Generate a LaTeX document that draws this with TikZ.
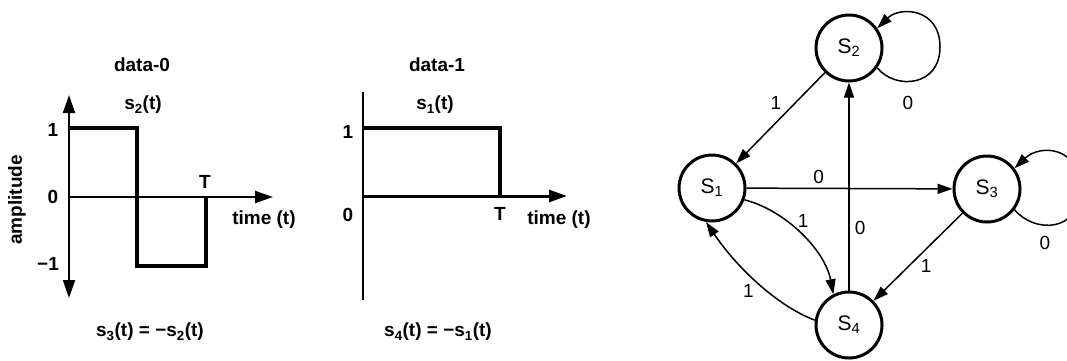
\documentclass[tikz,border=0pt]{standalone}
\usepackage{fontspec}
\setmainfont{Liberation Sans}
\usetikzlibrary{arrows.meta}
\tikzset{
  lbl/.style={font=\fontsize{19}{22}\selectfont\bfseries, inner sep=1pt},
  axis/.style={line width=2pt},
  wave/.style={line width=4pt, line join=miter},
  bigtip/.style={-{Triangle[length=18pt,width=12pt]}},
  state/.style={circle, draw, line width=3pt, minimum size=66pt, inner sep=0pt,
    font=\fontsize{21}{24}\selectfont},
  edge/.style={line width=1.5pt, -{Triangle[length=15pt,width=10pt]}},
  elbl/.style={font=\fontsize{19}{22}\selectfont, inner sep=1pt}
}
\begin{document}
\begin{tikzpicture}[x=1pt,y=-1pt]
\useasboundingbox (0,0) rectangle (1067,360);
% ---------- data-0 plot ----------
\coordinate (a0top) at (69,95);
\coordinate (a0bot) at (69,298);
\coordinate (a0o) at (69,197);
\coordinate (a0end) at (273,197);
\draw[axis, {Triangle[length=18pt,width=12pt]}-{Triangle[length=18pt,width=12pt]}] (a0bot) -- (a0top);
\draw[axis, bigtip] (a0o) -- (a0end);
\draw[wave] (69,128) -- (137,128) -- (137,266) -- (206,266) -- (206,196);
\node[lbl] (t0) at (142,65) {data-0};
\node[lbl] (s2t) at (143,105) {s\textsubscript{2}(t)};
\node[lbl] (y1a) at (53,130) {1};
\node[lbl] (y0a) at (53,197) {0};
\node[lbl] (ym1a) at (48,264) {\char"2212 1};
\node[lbl] (Ta) at (205,182) {T};
\node[lbl] (tma) at (264,220) {time (t)};
\node[lbl, rotate=90] (amp) at (17,200) {amplitude};
\node[lbl] (b0) at (150,332) {s\textsubscript{3}(t) = \char"2212 s\textsubscript{2}(t)};
% ---------- data-1 plot ----------
\coordinate (a1top) at (363,92);
\coordinate (a1bot) at (363,300);
\coordinate (a1o) at (363,196);
\coordinate (a1end) at (567,196);
\draw[axis] (a1bot) -- (a1top);
\draw[line width=3pt, bigtip] (a1o) -- (a1end);
\draw[wave] (363,128) -- (500,128) -- (500,197);
\node[lbl] (t1) at (437,65) {data-1};
\node[lbl] (s1t) at (435,105) {s\textsubscript{1}(t)};
\node[lbl] (y1b) at (348,132) {1};
\node[lbl] (y0b) at (348,215) {0};
\node[lbl] (Tb) at (500,214) {T};
\node[lbl] (tmb) at (559,220) {time (t)};
\node[lbl] (b1) at (438,332) {s\textsubscript{4}(t) = \char"2212 s\textsubscript{1}(t)};
% ---------- state diagram ----------
\node[state] (S1) at (712,188) {S\textsubscript{1}};
\node[state] (S2) at (849,48) {S\textsubscript{2}};
\node[state] (S3) at (987,189) {S\textsubscript{3}};
\node[state] (S4) at (849,325) {S\textsubscript{4}};
\draw[edge] (S2) -- node[elbl, pos=0.45, above left=2pt] (l21) {1} (S1);
\draw[edge] (S1) -- node[elbl, pos=0.35, above=3pt] (l13) {0} (S3);
\draw[edge] (S4) -- node[elbl, pos=0.3, right=4pt] (l42) {0} (S2);
\draw[edge] (S3) -- node[elbl, pos=0.5, below right=1pt] (l34) {1} (S4);
\draw[edge] (S1.-20) .. controls (785,210) and (825,250) .. (S4.117)
  node[elbl, pos=0.45, above right=0pt] (l14) {1};
\draw[edge] (S4.172) .. controls (775,305) and (735,265) .. (S1.-100)
  node[elbl, pos=0.5, below left=1pt] (l41) {1};
\coordinate (r2) at (940,47);
\draw[edge] (S2.-35) .. controls (895,90) and (940,87) .. (r2)
  .. controls (940,8) and (900,6) .. (S2.35);
\node[elbl] (l22) at (908,103) {0};
\coordinate (r3) at (1080,189);
\draw[edge] (S3.-37) .. controls (1035,234) and (1080,232) .. (r3)
  .. controls (1080,146) and (1040,144) .. (S3.37);
\node[elbl] (l33) at (1045,243) {0};
\end{tikzpicture}
\end{document}
